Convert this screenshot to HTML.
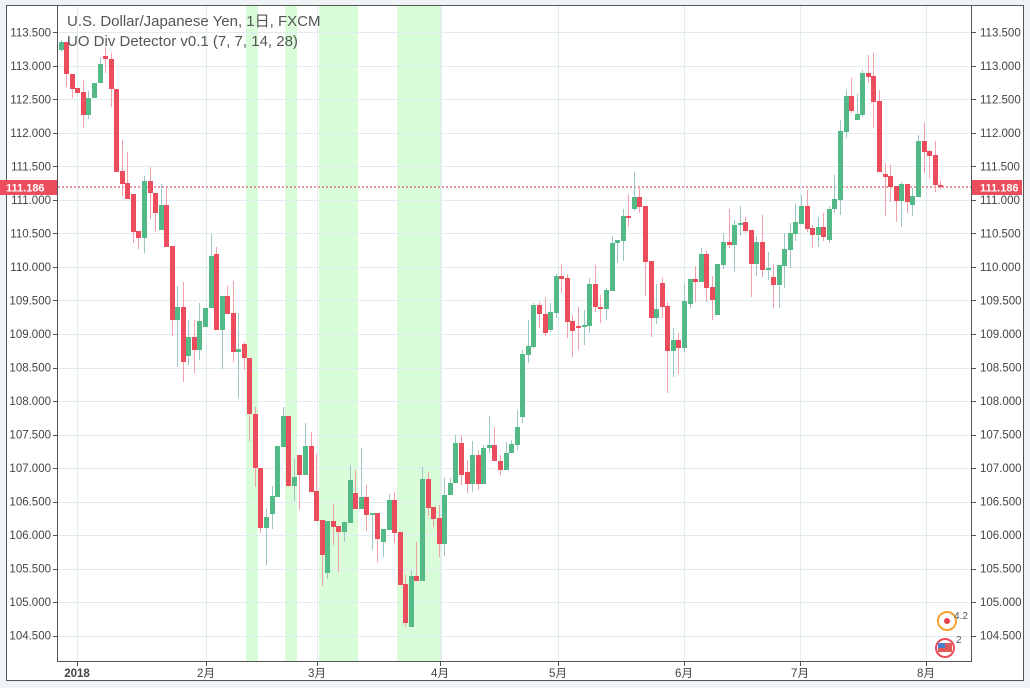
<!DOCTYPE html>
<html><head><meta charset="utf-8"><style>
html,body{margin:0;padding:0;background:#f0f3f6;}
svg{display:block;font-family:"Liberation Sans","Noto Sans CJK JP",sans-serif;}
</style></head><body>
<svg id="s" width="1030" height="688" xmlns="http://www.w3.org/2000/svg">
<rect x="6.5" y="5.5" width="1017" height="675" fill="#fff" stroke="#555" stroke-width="1"/>
<g id="bands" fill="#d8fdd8">
<rect x="246" y="6" width="12" height="655"/>
<rect x="285" y="6" width="12" height="655"/>
<rect x="319" y="6" width="39" height="655"/>
<rect x="397" y="6" width="44" height="655"/>
</g>
<line x1="441" y1="6" x2="441" y2="661" stroke="#bfe8c8" stroke-width="1"/>
<g id="grid" stroke="#e1ecf2" stroke-width="1"></g>
<line x1="58" y1="187" x2="971" y2="187" stroke="#d0313d" stroke-width="1" stroke-dasharray="2,2"/>
<g id="c"></g>
<line x1="57.5" y1="5" x2="57.5" y2="662" stroke="#555"/>
<line x1="971.5" y1="5" x2="971.5" y2="662" stroke="#555"/>
<line x1="57" y1="661.5" x2="972" y2="661.5" stroke="#555"/>
<g id="lbl" font-size="11.5" fill="#444"></g>
<text x="67" y="26" font-size="15" fill="#555">U.S. Dollar/Japanese Yen, 1日, FXCM</text>
<text x="67" y="46" font-size="15" fill="#555">UO Div Detector v0.1 (7, 7, 14, 28)</text>
<rect x="0" y="180" width="57" height="15" fill="#eb4d5c"/>
<text x="6" y="191.5" font-size="11" fill="#fff" font-weight="bold">111.186</text>
<rect x="972" y="180" width="50" height="15" fill="#eb4d5c"/>
<text x="980" y="191.5" font-size="11" fill="#fff" font-weight="bold">111.186</text>
<g>
<circle cx="947" cy="621" r="9" fill="none" stroke="#f7a130" stroke-width="2"/>
<circle cx="947" cy="621" r="3" fill="#e8404a"/>
<circle cx="945" cy="648" r="9" fill="#fff" stroke="#eb4d5c" stroke-width="2"/>
<rect x="938" y="643" width="14" height="9" fill="#e05a5a"/>
<rect x="938" y="643" width="7" height="5" fill="#4a7fd0"/>
<text x="954" y="619" font-size="10" fill="#555">4.2</text>
<text x="956" y="643" font-size="10" fill="#555">2</text>
</g>
</svg>
<script>
var ns="http://www.w3.org/2000/svg";
function el(p,t,a,txt){var e=document.createElementNS(ns,t);for(var k in a)e.setAttribute(k,a[k]);if(txt!==undefined)e.textContent=txt;p.appendChild(e);return e;}
var grid=document.getElementById('grid'),lbl=document.getElementById('lbl');
for(var k=0;k<=18;k++){
 var y=32.3+k*33.52, yy=Math.round(y)+0.5;
 el(grid,'line',{x1:58,y1:yy,x2:971,y2:yy});
 var v=(113.5-k*0.5).toFixed(3);
 el(lbl,'line',{x1:53,y1:yy,x2:57,y2:yy,stroke:'#555'});
 el(lbl,'line',{x1:972,y1:yy,x2:976,y2:yy,stroke:'#555'});
 el(lbl,'text',{x:51,y:y+4,'text-anchor':'end'},v);
 el(lbl,'text',{x:980,y:y+4},v);
}
var mx=[[77,'2018'],[206,'2月'],[317,'3月'],[440,'4月'],[558,'5月'],[684,'6月'],[800,'7月'],[926,'8月']];
mx.forEach(function(m){
 el(grid,'line',{x1:m[0]+0.5,y1:6,x2:m[0]+0.5,y2:661});
 el(lbl,'line',{x1:m[0]+0.5,y1:662,x2:m[0]+0.5,y2:666,stroke:'#555'});
 el(lbl,'text',{x:m[0],y:677,'text-anchor':'middle','font-weight':m[1]=='2018'?'bold':'normal'},m[1]);
});
var A=[
['g',42,50,40,52],['r',42,74,42,87],['r',74,89,74,98],['r',88,93,88,93],['r',92,115,80,128],['g',98,115,91,119],['g',83,98,83,98],['g',64,83,57,83],['r',56,59,47,73],['r',59,89,53,107],
['r',89,172,89,172],['r',171,184,140,196],['r',183,199,152,199],['r',194,232,194,243],['r',231,238,231,249],['g',181,238,176,253],['r',181,193,167,219],['r',193,213,193,232],['g',205,230,184,230],['r',205,247,187,247],
['r',246,320,246,336],['g',307,320,286,367],['r',307,362,282,382],['g',337,356,320,365],['r',337,350,320,373],['g',321,350,303,360],['g',308,327,308,327],['g',256,308,234,308],['r',254,330,247,330],['g',296,330,296,369],
['r',296,314,286,314],['r',313,352,281,362],['g',349,352,313,398],['r',344,358,342,370]];
var B=[
[249,'r',358,414,358,441],[255,'r',414,468,407,487],[260,'r',468,528,468,533],[266,'g',517,528,508,565],[272,'g',496,514,486,529],[277,'g',446,497,446,497],[283,'g',416,447,407,447],[288,'r',416,486,416,486],[294,'g',477,486,459,501],[299,'r',455,475,455,510],
[305,'g',446,475,423,475],[311,'r',446,492,432,492],[316,'r',491,521,454,521],[322,'r',520,555,520,586],[327,'g',521,573,521,579],[333,'r',521,527,504,545],[338,'r',526,532,526,572],[344,'g',522,532,522,542],[350,'g',480,523,465,523],[355,'r',493,509,470,509],
[361,'g',497,509,448,509],[366,'r',497,515,485,531],[372,'g',513,515,513,550],[377,'r',513,539,513,562],[383,'g',529,542,529,557],[389,'g',500,530,494,530],[394,'r',500,533,492,543],[400,'r',532,585,532,585],[405,'r',584,623,575,627],[411,'g',576,627,570,627],
[416,'r',576,581,542,581],[422,'g',479,581,467,581],[428,'r',479,508,472,516],[433,'r',507,519,507,527],[439,'r',518,544,505,557],[444,'g',495,544,478,556],[450,'g',483,495,478,495],[455,'g',443,483,435,483],[461,'r',443,475,435,485],[467,'r',472,484,460,493],
[472,'g',455,484,441,492],[478,'r',455,484,450,490],[483,'g',448,484,445,484],[489,'g',445,448,416,453],[494,'r',445,461,427,461],[500,'r',461,470,455,475],[506,'g',453,470,442,470],[511,'g',444,453,440,453],[517,'g',427,445,410,450],[522,'g',354,417,350,423],
[528,'g',346,355,320,363],[533,'g',305,347,303,348],[539,'r',305,314,302,328],[545,'r',314,333,297,336],[550,'g',312,330,303,332],[556,'g',276,313,274,318],[561,'r',276,279,264,293],[567,'r',278,322,274,338],[572,'r',321,331,315,357],[578,'r',326,328,307,350],
[584,'g',325,327,310,345],[589,'g',284,326,278,333],[595,'r',284,307,265,312],[600,'r',307,309,295,323],[606,'g',290,309,288,320],[612,'g',243,291,236,291],[617,'g',240,243,240,263],[623,'g',216,241,209,261],[628,'r',216,218,194,226],[634,'g',197,209,172,211],
[639,'r',197,207,187,213],[645,'r',206,262,206,296],[651,'r',261,318,261,337],[656,'g',309,318,284,324],[662,'r',283,307,278,318],[667,'r',306,351,302,393],[673,'g',340,351,328,377],[678,'r',340,348,333,374],[684,'g',301,348,284,352],[690,'g',279,304,279,308],
[695,'r',279,282,266,302],[701,'g',254,282,248,282],[706,'r',254,288,251,302],[712,'r',287,300,276,320],[717,'g',264,315,264,315],[723,'g',242,265,233,269],[729,'r',242,245,209,248],[734,'g',225,245,220,272],[740,'g',223,225,206,236],[745,'r',222,231,217,233],
[751,'r',230,264,230,297],[756,'g',242,264,236,276],[762,'r',242,270,215,277],[768,'g',268,270,252,280],[773,'r',277,285,264,308],[779,'g',265,285,265,308],[784,'g',249,266,233,288],[790,'g',233,250,223,268],[795,'g',222,234,203,241],[801,'g',206,224,195,224],
[807,'r',206,229,190,232],[812,'r',228,235,225,248],[818,'g',227,235,217,247],[823,'r',227,237,213,241],[829,'g',209,240,206,243],[834,'g',199,209,175,213],[840,'g',131,200,120,215],[846,'g',96,132,90,138],[851,'r',96,111,78,113],[857,'g',114,120,94,120],
[862,'g',73,115,70,117],[868,'r',73,77,55,83],[873,'r',76,102,53,128],[879,'r',101,172,90,172],[885,'r',174,177,163,216],[890,'r',176,187,165,202],[896,'r',186,201,186,222],[901,'g',184,201,182,227],[907,'r',184,202,184,213],[912,'g',196,205,188,216],
[918,'g',141,197,135,197],[924,'r',141,152,122,173],[929,'r',151,156,150,178],[935,'r',155,185,141,192],[940,'r',185,187,181,189]];
var all=[];
A.forEach(function(a,i){all.push([60.7+5.55*i].concat(a));});
B.forEach(function(b){all.push(b);});
var g=document.getElementById('c');
all.forEach(function(d){
 var x=Math.round(d[0]), col=d[1]=='g'?'#53b987':'#eb4d5c', wc=d[1]=='g'?'#9cc7c4':'#f3a0a8';
 el(g,'rect',{x:x,y:d[4],width:1,height:Math.max(1,d[5]-d[4]),fill:wc});
 el(g,'rect',{x:x-2,y:d[2],width:5,height:Math.max(1,d[3]-d[2]),fill:col});
});
</script>
</body></html>
